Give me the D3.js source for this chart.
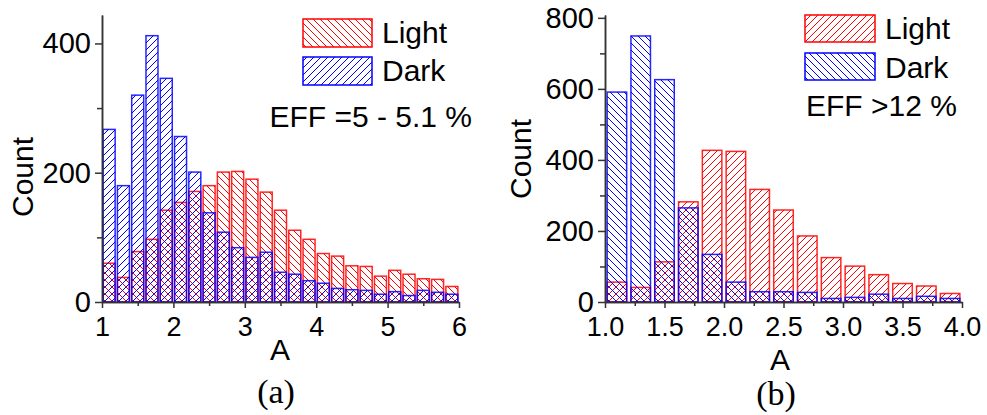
<!DOCTYPE html>
<html>
<head>
<meta charset="utf-8">
<script src="https://cdn.jsdelivr.net/npm/d3@7"></script>
<style>
  body { margin: 0; background: #fff; }
  text { font-family: "Liberation Sans", Arial, sans-serif; fill: #000; }
  .serif { font-family: "Liberation Serif", "Times New Roman", serif; }
</style>
</head>
<body>
<div id="vis"></div>
<script>
// panel (a): EFF = 5 - 5.1 %
const binsA = [1.0, 1.2, 1.4, 1.6, 1.8, 2.0, 2.2, 2.4, 2.6, 2.8, 3.0, 3.2, 3.4, 3.6, 3.8,
               4.0, 4.2, 4.4, 4.6, 4.8, 5.0, 5.2, 5.4, 5.6, 5.8];
const lightA = [60, 38, 78, 97, 142, 154, 171, 180, 201, 202, 190, 170, 142, 111, 97,
                75, 71, 56, 55, 40, 49, 43, 36, 35, 24];
const darkA = [267, 180, 320, 412, 346, 256, 201, 138, 108, 84, 69, 77, 46, 43, 33,
               29, 21, 19, 18, 12, 16, 10, 18, 15, 12];
const xTicksA = [1, 2, 3, 4, 5, 6];
const yTicksA = [0, 200, 400];

// panel (b): EFF > 12 %
const binsB = [1.0, 1.2, 1.4, 1.6, 1.8, 2.0, 2.2, 2.4, 2.6, 2.8, 3.0, 3.2, 3.4, 3.6, 3.8];
const lightB = [56, 41, 113, 282, 427, 424, 317, 259, 186, 125, 101, 77, 52, 45, 24];
const darkB = [591, 749, 626, 265, 134, 56, 29, 29, 27, 10, 13, 22, 10, 16, 10];
const xTicksB = [1.0, 1.5, 2.0, 2.5, 3.0, 3.5, 4.0];
const yTicksB = [0, 200, 400, 600, 800];

const WIDTH = 987;
const HEIGHT = 415;
const RED = "#ff0000";
const BLUE = "#0000ff";
const AXIS = "#333";

const svg = d3.select("#vis")
              .append("svg")
                .attr("width", WIDTH)
                .attr("height", HEIGHT);

svg.append("rect").attr("width", WIDTH).attr("height", HEIGHT).attr("fill", "#fff");

const defs = svg.append("defs");

// diagonal hatch, one line per tile, drawn pixel-crisp like the original export
function hatch(id, color, dir, size) {
  const s = size;
  const d = dir === "/"
    ? `M-1,1 l2,-2 M0,${s} l${s},-${s} M${s - 1},${s + 1} l2,-2`
    : `M-1,${s - 1} l2,2 M0,0 l${s},${s} M${s - 1},-1 l2,2`;
  defs.append("pattern")
      .attr("id", id)
      .attr("patternUnits", "userSpaceOnUse")
      .attr("width", s)
      .attr("height", s)
    .append("path")
      .attr("d", d)
      .attr("stroke", color)
      .attr("stroke-width", 1)
      .attr("shape-rendering", "crispEdges")
      .attr("fill", "none");
}

hatch("redBack", RED, "\\", 7);
hatch("blueFwd", BLUE, "/", 7);
hatch("redFwd", RED, "/", 7);
hatch("blueBack", BLUE, "\\", 7);

function panel(cfg) {
  const x = d3.scaleLinear(cfg.xDomain, [cfg.left, cfg.right]);
  const y = d3.scaleLinear(cfg.yDomain, [cfg.bottom, cfg.top]);
  const g = svg.append("g");
  const step = cfg.bins[1] - cfg.bins[0];

  function bars(values, fill, color) {
    g.append("g")
      .selectAll("rect")
      .data(values)
      .enter()
      .append("rect")
        .attr("x", (d, i) => {
          const w = x(cfg.bins[i] + step) - x(cfg.bins[i]);
          return x(cfg.bins[i]) + w * (1 - cfg.barFrac) / 2;
        })
        .attr("width", (d, i) => (x(cfg.bins[i] + step) - x(cfg.bins[i])) * cfg.barFrac)
        .attr("y", d => y(d))
        .attr("height", d => y(0) - y(d))
        .attr("fill", fill)
        .attr("stroke", color)
        .attr("stroke-width", 1.5)
        .attr("stroke-opacity", 0.85);
  }

  bars(cfg.light, cfg.lightFill, RED);
  bars(cfg.dark, cfg.darkFill, BLUE);

  // axes
  const xMinor = g.append("g")
    .attr("transform", `translate(0, ${cfg.bottom})`)
    .call(d3.axisBottom(x).tickValues(cfg.xMinor).tickSize(4).tickSizeOuter(0).tickFormat(""));
  const xAxis = g.append("g")
    .attr("transform", `translate(0, ${cfg.bottom})`)
    .call(d3.axisBottom(x).tickValues(cfg.xTicks).tickSize(6).tickSizeOuter(0)
      .tickPadding(9).tickFormat(cfg.xFormat));
  const yMinor = g.append("g")
    .attr("transform", `translate(${cfg.left}, 0)`)
    .call(d3.axisLeft(y).tickValues(cfg.yMinor).tickSize(5).tickSizeOuter(0).tickFormat(""));
  const yAxis = g.append("g")
    .attr("transform", `translate(${cfg.left}, 0)`)
    .call(d3.axisLeft(y).tickValues(cfg.yTicks).tickSize(7).tickSizeOuter(0)
      .tickPadding(4).tickFormat(d3.format("d")));

  [xMinor, xAxis, yMinor, yAxis].forEach(a => {
    a.selectAll("path, line").attr("stroke", AXIS).attr("stroke-width", 1.5);
  });
  xAxis.selectAll("text").attr("font-size", 27).attr("fill", "#000");
  yAxis.selectAll("text").attr("font-size", 29).attr("fill", "#000");

  // labels
  g.append("text")
    .attr("transform", `translate(${cfg.yLabel[0]}, ${cfg.yLabel[1]}) rotate(-90)`)
    .attr("text-anchor", "middle")
    .attr("font-size", 30)
    .text("Count");
  g.append("text")
    .attr("x", cfg.xLabel[0]).attr("y", cfg.xLabel[1])
    .attr("text-anchor", "middle")
    .attr("font-size", 30)
    .text("A");
  g.append("text")
    .attr("class", "serif")
    .attr("x", cfg.tag[0]).attr("y", cfg.tag[1])
    .attr("text-anchor", "middle")
    .attr("font-size", 34)
    .text(cfg.tagText);

  // legend
  const L = cfg.legend;
  [[cfg.lightFill, RED, "Light"], [cfg.darkFill, BLUE, "Dark"]].forEach((item, i) => {
    g.append("rect")
      .attr("x", L.x).attr("y", L.y[i])
      .attr("width", L.w).attr("height", L.h)
      .attr("fill", item[0])
      .attr("stroke", item[1])
      .attr("stroke-width", 1.5);
    g.append("text")
      .attr("x", L.tx).attr("y", L.ty[i])
      .attr("font-size", 30)
      .text(item[2]);
  });
  g.append("text")
    .attr("x", L.eff[0]).attr("y", L.eff[1])
    .attr("text-anchor", L.effAnchor)
    .attr("font-size", 30)
    .text(L.effText);
}

panel({
  bins: binsA, light: lightA, dark: darkA,
  xDomain: [1, 6], yDomain: [0, 444],
  left: 102, right: 459, top: 15, bottom: 302,
  barFrac: 0.84,
  xTicks: xTicksA, xMinor: [1.5, 2.5, 3.5, 4.5, 5.5], xFormat: d3.format("d"),
  yTicks: yTicksA, yMinor: [100, 300],
  lightFill: "url(#redBack)", darkFill: "url(#blueFwd)",
  yLabel: [33, 177], xLabel: [280, 360], tag: [276, 403], tagText: "(a)",
  legend: { x: 303, y: [19, 57], w: 69, h: 28, tx: 382, ty: [43, 81],
            eff: [472, 127], effAnchor: "end", effText: "EFF =5 - 5.1 %" }
});

panel({
  bins: binsB, light: lightB, dark: darkB,
  xDomain: [1, 4], yDomain: [0, 808],
  left: 605, right: 962, top: 15, bottom: 302,
  barFrac: 0.82,
  xTicks: xTicksB, xMinor: [1.25, 1.75, 2.25, 2.75, 3.25, 3.75], xFormat: d3.format(".1f"),
  yTicks: yTicksB, yMinor: [100, 300, 500, 700],
  lightFill: "url(#redFwd)", darkFill: "url(#blueBack)",
  yLabel: [531, 159], xLabel: [780, 370], tag: [776, 405], tagText: "(b)",
  legend: { x: 805, y: [15, 53], w: 70, h: 27, tx: 885, ty: [39, 78],
            eff: [806, 116], effAnchor: "start", effText: "EFF >12 %" }
});
</script>
</body>
</html>
